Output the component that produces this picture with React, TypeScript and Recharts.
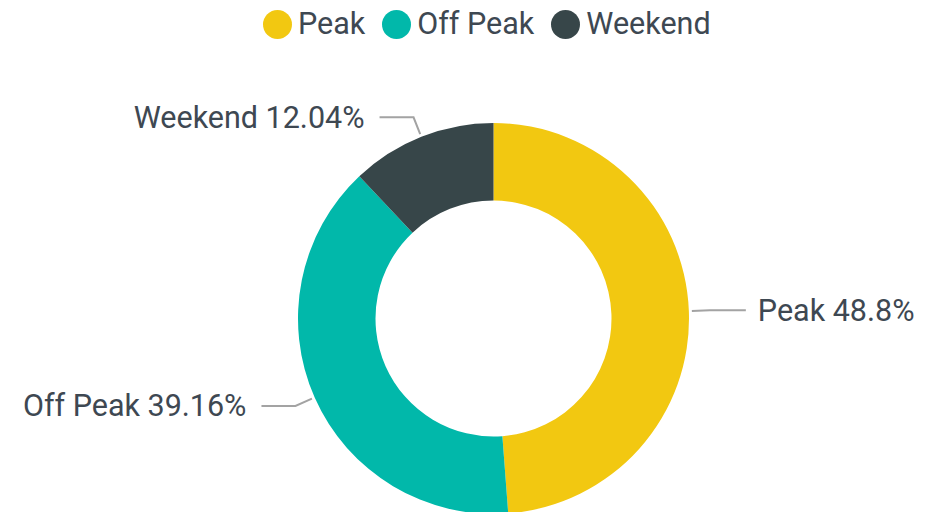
import React from "react";
import { PieChart, Pie, Cell, Legend } from "recharts";

const categories = ["Peak", "Off Peak", "Weekend"];
const shares = [48.8, 39.16, 12.04];
const colors = ["#F2C811", "#01B8AA", "#374649"];

const data = categories.map((name, i) => ({ name, value: shares[i] }));

const FONT = "Roboto, 'Noto Sans', sans-serif";
const TEXT = "#3e4852";
const RAD = Math.PI / 180;

const renderLabel = (props: any) => {
  const { cx, cy, midAngle, outerRadius, name, value } = props;
  const cos = Math.cos(-midAngle * RAD);
  const sin = Math.sin(-midAngle * RAD);
  const x1 = cx + (outerRadius + 3) * cos;
  const y1 = cy + (outerRadius + 3) * sin;
  const x2 = cx + (outerRadius + 21) * cos;
  const y2 = cy + (outerRadius + 21) * sin;
  const right = cos >= 0;
  const x3 = x2 + (right ? 36 : -34);
  const tx = x3 + (right ? 12 : -15);
  return (
    <g>
      <polyline
        points={`${x1},${y1} ${x2},${y2} ${x3},${y2}`}
        fill="none"
        stroke="#a3a3a3"
        strokeWidth={2}
      />
      <text
        x={tx}
        y={y2 + 10.5}
        textAnchor={right ? "start" : "end"}
        fontFamily={FONT}
        fontSize={30.5}
        fill={TEXT}
      >
        {`${name} ${value}%`}
      </text>
    </g>
  );
};

const renderLegend = () => (
  <div
    style={{
      display: "flex",
      alignItems: "center",
      paddingLeft: 263,
      fontFamily: FONT,
      fontSize: 30.5,
      color: TEXT,
      lineHeight: "30px",
      height: 30,
    }}
  >
    {categories.map((c, i) => (
      <div
        key={c}
        style={{ display: "flex", alignItems: "center", marginRight: 17 }}
      >
        <span
          style={{
            display: "inline-block",
            width: 29,
            height: 29,
            borderRadius: "50%",
            background: colors[i],
            marginRight: 6,
          }}
        />
        <span>{c}</span>
      </div>
    ))}
  </div>
);

export default function App() {
  return (
    <div style={{ position: "fixed", left: 0, top: 0, width: 949, height: 512, background: "#fff" }}>
      <PieChart width={949} height={512} margin={{ top: 0, right: 0, bottom: 0, left: 0 }}>
        <Legend
          verticalAlign="top"
          content={renderLegend}
          wrapperStyle={{ top: 9, left: 0, width: 949, height: 30 }}
        />
        <Pie
          data={data}
          dataKey="value"
          nameKey="name"
          cx={493.5}
          cy={288.5}
          innerRadius={118}
          outerRadius={195.5}
          startAngle={90}
          endAngle={-270}
          stroke="none"
          label={renderLabel}
          labelLine={false}
          isAnimationActive={false}
        >
          {data.map((d, i) => (
            <Cell key={d.name} fill={colors[i]} />
          ))}
        </Pie>
      </PieChart>
    </div>
  );
}
